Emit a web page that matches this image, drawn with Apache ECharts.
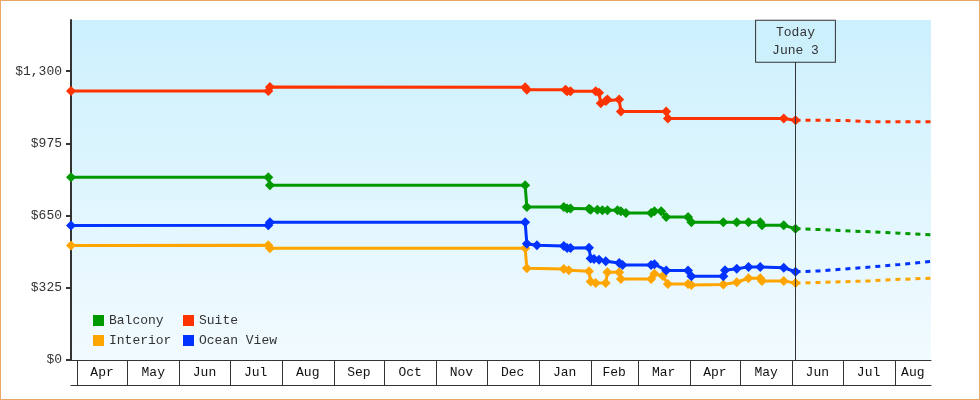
<!DOCTYPE html>
<html><head><meta charset="utf-8">
<script src="https://cdn.jsdelivr.net/npm/echarts@6/dist/echarts.min.js"></script>
<style>
html,body{margin:0;padding:0;background:#fff}
#wrap{position:relative;width:980px;height:400px}
#c{width:980px;height:400px}
#frame{position:absolute;left:0;top:0;width:980px;height:400px;box-sizing:border-box;border:1px solid #eaa864;pointer-events:none}
</style>
</head><body>
<div id="wrap"><div id="c"></div><div id="frame"></div></div>
<script>
const FONT = '"Liberation Mono", "DejaVu Sans Mono", monospace';

// ---- axis / annotation values ----
const axisStart = '2022-03-28 12:00';
const axisEnd = '2023-08-22 17:00';
const today = '2023-06-03';
const todayLabel = ['Today', 'June 3'];
const todayBoxValue = 1342;
const yTicks = [0, 325, 650, 975, 1300];
const yMax = 1530;
const monthBounds = ['2022-04-01','2022-05-01','2022-06-01','2022-07-01','2022-08-01','2022-09-01','2022-10-01','2022-11-01','2022-12-01','2023-01-01','2023-02-01','2023-03-01','2023-04-01','2023-05-01','2023-06-01','2023-07-01','2023-08-01','2023-09-01'];
const monthNames = ['Apr','May','Jun','Jul','Aug','Sep','Oct','Nov','Dec','Jan','Feb','Mar','Apr','May','Jun','Jul','Aug'];

// ---- series ----
const balconyDates = ['2022-03-28 12:00','2022-07-24','2022-07-25','2022-12-24','2022-12-25','2023-01-16','2023-01-18','2023-01-20','2023-01-31','2023-02-01','2023-02-05','2023-02-08','2023-02-11','2023-02-17','2023-02-19','2023-02-22','2023-03-09','2023-03-11','2023-03-15','2023-03-18','2023-03-31','2023-04-02','2023-04-21','2023-04-29','2023-05-06','2023-05-13','2023-05-14','2023-05-27','2023-06-03'];
const balconyPrices = [822,822,786,786,688,688,682,682,681,676,676,674,674,674,669,662,662,669,669,643,643,620,620,620,620,620,606,606,591];

const interiorDates = ['2022-03-28 12:00','2022-07-24','2022-07-25','2022-12-24','2022-12-25','2023-01-16','2023-01-19','2023-01-31','2023-02-01','2023-02-04','2023-02-10','2023-02-11','2023-02-18','2023-02-19','2023-03-09','2023-03-11','2023-03-16','2023-03-19','2023-03-31','2023-04-02','2023-04-21','2023-04-29','2023-05-06','2023-05-13','2023-05-14','2023-05-27','2023-06-03'];
const interiorPrices = [515,516,503,503,413,410,404,399,353,347,347,395,395,365,365,388,378,342,342,338,340,350,368,368,356,356,346];

const oceanDates = ['2022-03-28 12:00','2022-07-24','2022-07-25','2022-12-24','2022-12-25','2022-12-31','2023-01-16','2023-01-18','2023-01-20','2023-01-31','2023-02-01','2023-02-03','2023-02-06','2023-02-10','2023-02-18','2023-02-20','2023-03-09','2023-03-11','2023-03-18','2023-03-31','2023-04-02','2023-04-21','2023-04-22','2023-04-29','2023-05-06','2023-05-13','2023-05-27','2023-06-03'];
const oceanPrices = [605,606,620,620,523,516,513,504,504,505,457,455,451,444,437,428,428,431,403,403,377,377,404,411,419,419,415,397];

const suiteDates = ['2022-03-28 12:00','2022-07-24','2022-07-25','2022-12-24','2022-12-25','2023-01-17','2023-01-18','2023-01-20','2023-02-04','2023-02-06','2023-02-07','2023-02-10','2023-02-11','2023-02-18','2023-02-19','2023-03-18','2023-03-19','2023-05-27','2023-06-03'];
const suitePrices = [1210,1210,1228,1227,1216,1216,1209,1209,1209,1203,1155,1165,1172,1172,1118,1118,1087,1087,1079];

// ---- forecasts (dashed) ----
const forecastDates = ['2023-06-03','2023-06-17','2023-07-01','2023-07-17','2023-08-04','2023-08-22 17:00'];
const balconyForecast = [591,587,582,577,570,563];
const interiorForecast = [346,349,352,356,363,368];
const oceanForecast = [397,401,409,418,430,444];
const suiteForecast = [1079,1079,1078,1072,1072,1072];

const COLORS = {Balcony:'#009900', Interior:'#ffa500', 'Ocean View':'#0033ff', Suite:'#ff3300'};

const zip = (d, v) => d.map((x, i) => [x, v[i]]);

function priceSeries(name, dates, prices) {
  return {
    name, type: 'line', data: zip(dates, prices),
    symbol: 'diamond', symbolSize: 10, showSymbol: true, showAllSymbol: true,
    lineStyle: {width: 3, color: COLORS[name]},
    itemStyle: {color: COLORS[name]},
    emphasis: {disabled: true}, animation: false, z: 3
  };
}
function forecastSeries(name, values) {
  return {
    name: name + ' forecast', type: 'line', data: zip(forecastDates, values),
    symbol: 'none', showSymbol: false,
    lineStyle: {width: 3, color: COLORS[name], type: [5, 5]},
    itemStyle: {color: COLORS[name]},
    emphasis: {disabled: true}, animation: false, z: 3
  };
}

const chart = echarts.init(document.getElementById('c'));
const legendCommon = {
  orient: 'vertical', top: 314, itemWidth: 11, itemHeight: 11, itemGap: 7, padding: 0,
  icon: 'rect', selectedMode: false,
  textStyle: {fontFamily: FONT, fontSize: 13, color: '#333'}
};

chart.setOption({
  animation: false,
  backgroundColor: '#fff',
  grid: {
    left: 71, right: 49, top: 20, bottom: 40, show: true, borderWidth: 0,
    backgroundColor: new echarts.graphic.LinearGradient(0, 0, 0, 1, [
      {offset: 0, color: '#ccf0fd'}, {offset: 1, color: '#f2fbff'}
    ])
  },
  legend: [
    Object.assign({left: 93, data: ['Balcony', 'Interior']}, legendCommon),
    Object.assign({left: 183, data: ['Suite', 'Ocean View']}, legendCommon)
  ],
  xAxis: [
    {
      type: 'time', min: axisStart, max: axisEnd,
      axisLine: {show: true, lineStyle: {color: '#333', width: 1}},
      axisTick: {show: false}, axisLabel: {show: false}, splitLine: {show: false}
    },
    {
      type: 'time', min: axisStart, max: axisEnd, position: 'bottom', offset: 25,
      axisLine: {show: true, lineStyle: {color: '#333', width: 1}},
      axisTick: {show: false}, axisLabel: {show: false}, splitLine: {show: false}
    }
  ],
  yAxis: {
    type: 'value', min: 0, max: yMax,
    axisLine: {show: true, lineStyle: {color: '#333', width: 2}},
    axisTick: {show: true, length: 5, customValues: yTicks, lineStyle: {color: '#333', width: 2}},
    axisLabel: {
      show: true, customValues: yTicks, margin: 9,
      fontFamily: FONT, fontSize: 13, color: '#333',
      formatter: v => '$' + v.toLocaleString('en-US')
    },
    splitLine: {show: false}
  },
  series: [
    {
      type: 'custom', name: 'months', silent: true, clip: false, z: 1,
      encode: {x: [0, 1], y: 2},
      data: monthNames.map((m, i) => [monthBounds[i], monthBounds[i + 1], 0]),
      renderItem: (params, api) => {
        const cs = params.coordSys;
        const right = cs.x + cs.width;
        const yb = cs.y + cs.height;
        const x0 = api.coord([api.value(0), 0])[0];
        const x1 = Math.min(api.coord([api.value(1), 0])[0], right);
        const xl = Math.round(x0) + 0.5;
        return {
          type: 'group',
          children: [
            {type: 'line', shape: {x1: xl, y1: yb, x2: xl, y2: yb + 25}, style: {stroke: '#333', lineWidth: 1}},
            {type: 'text', x: (x0 + x1) / 2, y: yb + 13,
             style: {text: monthNames[params.dataIndex], align: 'center', verticalAlign: 'middle',
                     font: '13px ' + FONT, fill: '#111'}}
          ]
        };
      }
    },
    {
      type: 'line', name: 'today', data: [[today, 0]], symbol: 'none', showSymbol: false,
      silent: true, z: 2, lineStyle: {width: 0},
      markLine: {
        symbol: ['none', 'none'], silent: true, animation: false,
        lineStyle: {color: '#333', width: 1, type: 'solid'},
        label: {
          show: true, position: 'end', distance: 0,
          formatter: todayLabel.join('\n'),
          fontFamily: FONT, fontSize: 13, color: '#333', lineHeight: 18,
          padding: [3, 16, 2, 16], borderColor: '#333', borderWidth: 1,
          backgroundColor: '#cdf0fd', align: 'center'
        },
        data: [[{coord: [today, 0]}, {coord: [today, todayBoxValue]}]]
      }
    },
    forecastSeries('Balcony', balconyForecast),
    forecastSeries('Interior', interiorForecast),
    forecastSeries('Ocean View', oceanForecast),
    forecastSeries('Suite', suiteForecast),
    priceSeries('Balcony', balconyDates, balconyPrices),
    priceSeries('Interior', interiorDates, interiorPrices),
    priceSeries('Ocean View', oceanDates, oceanPrices),
    priceSeries('Suite', suiteDates, suitePrices)
  ]
});
</script>
</body></html>
